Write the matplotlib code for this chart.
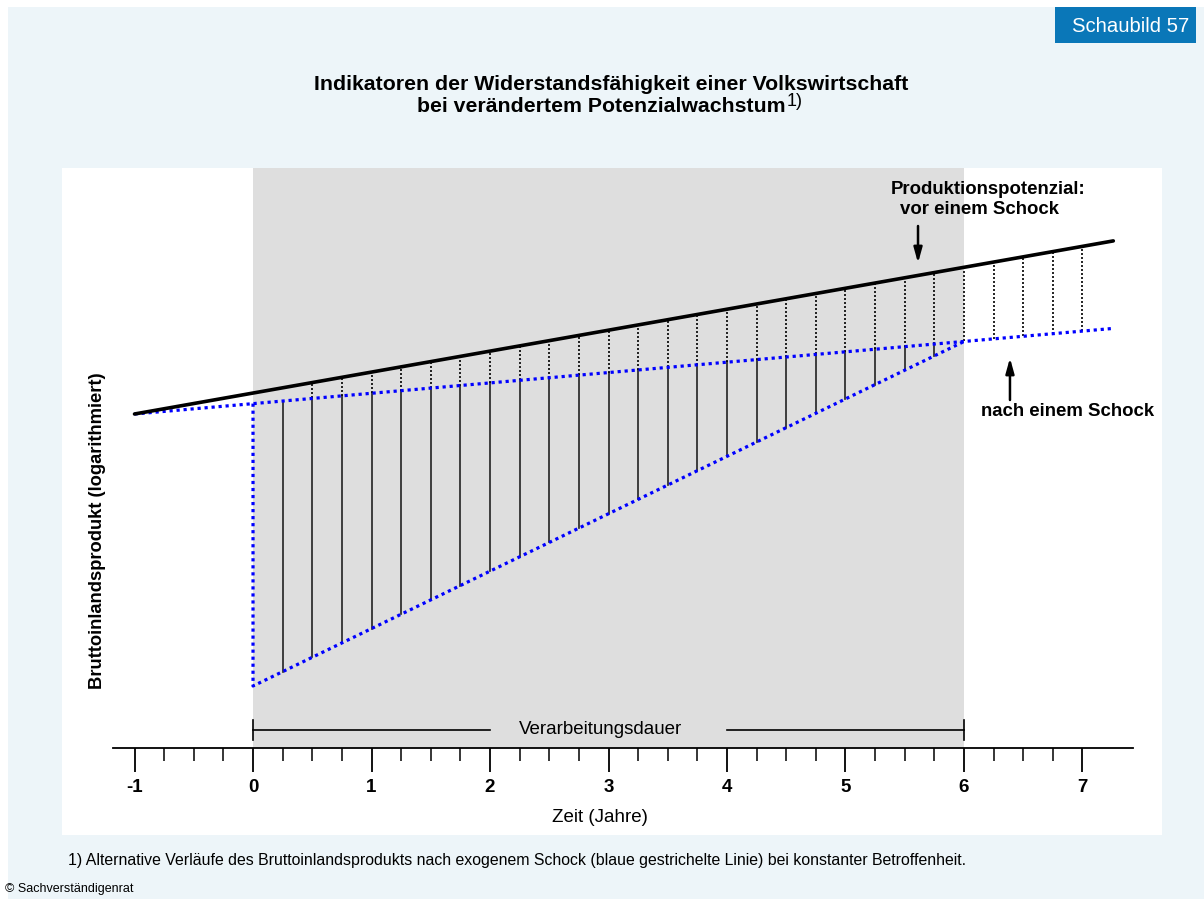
import numpy as np
import matplotlib
matplotlib.use("Agg")
import matplotlib.pyplot as plt
from matplotlib.patches import Rectangle

plt.rcParams['font.family'] = ['Liberation Sans', 'DejaVu Sans']

# schematic values (log GDP, arbitrary units; 0 = time axis)
potential_x = [-1.0, 7.26]          # production potential before shock
potential_y = [33.4, 50.71]
new_pot_x = [-1.0, 7.26]            # potential after shock (lower growth)
new_pot_y = [33.4, 41.96]
shock_x = [0.0, 0.0, 6.0]           # GDP path after exogenous shock
shock_y = [34.44, 6.2, 40.65]
hatch_x = np.arange(0.25, 7.01, 0.25)
process_start, process_end = 0.0, 6.0
tick_major = [-1, 0, 1, 2, 3, 4, 5, 6, 7]
tick_minor = np.arange(-0.75, 6.76, 0.25)

BLUE = '#0000ff'
BG = '#edf5f9'

fig = plt.figure(figsize=(12.04, 8.99), dpi=100)
fig.patch.set_facecolor('white')
W, H = 1204, 899
fig.patches.append(Rectangle((8 / W, 0), 1 - 8 / W, 1 - 7 / H, transform=fig.transFigure,
                             facecolor=BG, edgecolor='none', zorder=-10))

ax = fig.add_axes([62 / W, (H - 835) / H, 1100 / W, 667 / H])
ax.set_facecolor('white')
ax.set_xlim(-1.612, 7.671)
ax.set_ylim(-8.7, 58.0)

# shaded processing period
ymin_frac = (0 - ax.get_ylim()[0]) / (ax.get_ylim()[1] - ax.get_ylim()[0])
ax.axvspan(process_start, process_end, ymin=ymin_frac, ymax=1, color='#dedede', lw=0, zorder=0)

# vertical connectors
for hx in hatch_x:
    top = np.interp(hx, potential_x, potential_y)
    mid = np.interp(hx, new_pot_x, new_pot_y)
    if hx < process_end:
        low = np.interp(hx, shock_x[1:], shock_y[1:])
        ax.plot([hx, hx], [low, mid], color='#222222', lw=1.2, zorder=2)
    if hx >= 0.5:
        ax.plot([hx, hx], [mid, top], color='black', lw=1.2, ls=(0, (1.2, 1.2)), zorder=2)

ax.plot(potential_x, potential_y, color='black', lw=2.6, solid_capstyle='round', zorder=4)
ax.plot(new_pot_x, new_pot_y, color=BLUE, lw=2.3, ls=(0, (1, 1.2)), zorder=3)
ax.plot(shock_x, shock_y, color=BLUE, lw=2.3, ls=(0, (1, 1.2)), zorder=3)

# processing duration bracket
by = 1.8
ax.plot([process_start, 2.0], [by, by], color='black', lw=1.2)
ax.plot([4.0, process_end], [by, by], color='black', lw=1.2)
ax.plot([process_start, process_start], [by - 1.0, by + 1.0], color='black', lw=1.2)
ax.plot([process_end, process_end], [by - 1.0, by + 1.0], color='black', lw=1.2)
ax.text(2.93, by + 0.05, 'Verarbeitungsdauer', ha='center', va='center', fontsize=13.5)

# annotations
arrow = dict(arrowstyle='-|>,head_length=0.9,head_width=0.25', lw=1.8, color='black',
             shrinkA=0, shrinkB=0)
ax.text(6.20, 55.8, 'Produktionspotenzial:', ha='center', va='center', fontsize=13.4, fontweight='bold')
ax.text(6.135, 53.9, 'vor einem Schock', ha='center', va='center', fontsize=13.4, fontweight='bold')
ax.annotate('', xy=(5.612, 48.5), xytext=(5.612, 52.2), arrowprops=arrow)
ax.text(6.87, 33.6, 'nach einem Schock', ha='center', va='center', fontsize=13.4, fontweight='bold')
ax.annotate('', xy=(6.388, 39.0), xytext=(6.388, 34.8), arrowprops=arrow)

# time axis
for s in ['left', 'right', 'top']:
    ax.spines[s].set_visible(False)
ax.spines['bottom'].set_position(('data', 0))
ax.spines['bottom'].set_bounds(-1.18, 7.43)
ax.spines['bottom'].set_linewidth(1.3)
ax.set_xticks(tick_major)
ax.set_xticks(tick_minor, minor=True)
ax.set_xticklabels([str(t) for t in tick_major], fontsize=13.5, fontweight='bold')
ax.tick_params(axis='x', which='major', direction='out', length=17, width=1.3, pad=5)
ax.tick_params(axis='x', which='minor', direction='out', length=9, width=1.1)
ax.set_yticks([])
ax.text(2.93, -7.0, 'Zeit (Jahre)', ha='center', va='center', fontsize=13.5)
ax.text(-1.315, 21.7, 'Bruttoinlandsprodukt (logarithmiert)', rotation=90,
        ha='center', va='center', fontsize=13.2, fontweight='bold')

# title
fig.text(611 / W, 1 - 84 / H, 'Indikatoren der Widerstandsfähigkeit einer Volkswirtschaft',
         ha='center', va='center', fontsize=15.3, fontweight='bold')
t2 = fig.text(0, 1 - 106 / H, 'bei verändertem Potenzialwachstum', ha='left', va='center',
              fontsize=15.3, fontweight='bold')
sup = fig.text(0, 1 - 101 / H, '1)', ha='left', va='center', fontsize=13)
r = fig.canvas.get_renderer()
w2 = t2.get_window_extent(r).width
ws = sup.get_window_extent(r).width
x0 = 610 - (w2 + ws + 1) / 2
t2.set_x(x0 / W)
sup.set_x((x0 + w2 + 1) / W)

# badge
fig.patches.append(Rectangle((1055 / W, 1 - 43 / H), 141 / W, 36 / H, transform=fig.transFigure,
                             facecolor='#0a77b8', edgecolor='none'))
fig.text(1131 / W, 1 - 26 / H, 'Schaubild 57', ha='center', va='center', fontsize=14.6, color='white')

# footnote
fig.text(68 / W, 1 - 861 / H,
         '1) Alternative Verläufe des Bruttoinlandsprodukts nach exogenem Schock '
         '(blaue gestrichelte Linie) bei konstanter Betroffenheit.',
         ha='left', va='center', fontsize=11.4)
fig.text(5 / W, 1 - 889 / H, '© Sachverständigenrat', ha='left', va='center', fontsize=9)

fig.savefig('out.png', dpi=100, facecolor=fig.get_facecolor())
